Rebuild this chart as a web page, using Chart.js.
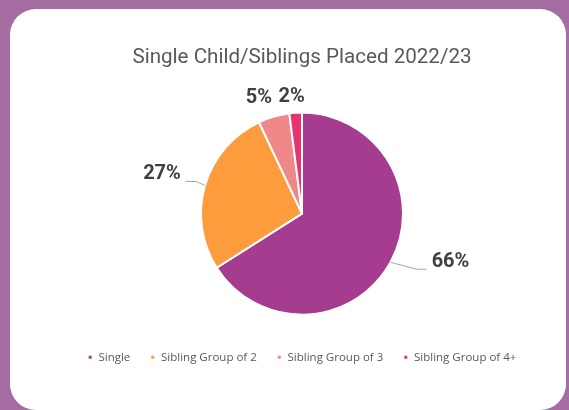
<!DOCTYPE html>
<html>
<head>
<meta charset="utf-8">
<script src="https://cdn.jsdelivr.net/npm/chart.js@4.4.0/dist/chart.umd.min.js"></script>
<style>
  html, body { margin: 0; padding: 0; }
  body { width: 569px; height: 410px; background: #a66da3; position: relative; overflow: hidden; }
  .card { position: absolute; left: 10px; top: 9px; width: 556px; height: 401px; background: #fff; border-radius: 26px; }
  .wrap { position: absolute; left: 0; top: 0; width: 569px; height: 410px; }
</style>
</head>
<body>
<div class="card"></div>
<div class="wrap"><canvas id="chart"></canvas></div>
<script>
const categories = ["Single", "Sibling Group of 2", "Sibling Group of 3", "Sibling Group of 4+"]
const placed = [66, 27, 5, 2]
const sliceColors = ["#a53c8f", "#fd9b3d", "#f0888a", "#e8336f"]

// where each % label sits relative to the outer edge of its slice, and which get a leader line
const labelNudges = [[60, 0], [-43, -11], [-15, -19], [-4, -16]]
const leaders = [true, true, false, false]

const outsideLabels = {
  id: "outsideLabels",
  afterDatasetsDraw(chart) {
    const ctx = chart.ctx
    const meta = chart.getDatasetMeta(0)
    const total = placed.reduce((a, b) => a + b, 0)
    ctx.save()
    ctx.font = "bold 20px Roboto"
    ctx.textBaseline = "middle"
    ctx.textAlign = "center"
    meta.data.forEach((arc, i) => {
      const { x, y, startAngle, endAngle, outerRadius } = arc.getProps(["x", "y", "startAngle", "endAngle", "outerRadius"], true)
      const mid = (startAngle + endAngle) / 2
      const ax = x + Math.cos(mid) * outerRadius
      const ay = y + Math.sin(mid) * outerRadius
      const lx = ax + labelNudges[i][0]
      const ly = ay + labelNudges[i][1]
      const text = Math.round(placed[i] / total * 100) + "%"
      const w = ctx.measureText(text).width

      if (leaders[i]) {
        const side = lx > ax ? -1 : 1
        const ex = lx + side * (w / 2 + 5)
        const ey = ly + 7
        ctx.beginPath()
        ctx.moveTo(ax, ay)
        ctx.lineTo(ex + side * 10, ey)
        ctx.lineTo(ex, ey)
        ctx.strokeStyle = "#a6a6a6"
        ctx.lineWidth = 1
        ctx.stroke()
      }

      ctx.fillStyle = "#404040"
      ctx.fillText(text, lx, ly)
    })
    ctx.restore()
  }
}

new Chart(document.getElementById("chart"), {
  type: "pie",
  data: {
    labels: categories,
    datasets: [{
      data: placed,
      backgroundColor: sliceColors,
      borderColor: "#ffffff",
      borderWidth: 2
    }]
  },
  options: {
    responsive: true,
    maintainAspectRatio: false,
    animation: false,
    radius: 101,
    layout: {
      padding: { left: 35, right: 0, top: 0, bottom: 37 }
    },
    plugins: {
      title: {
        display: true,
        text: "Single Child/Siblings Placed 2022/23",
        color: "#595959",
        font: { family: "Roboto", size: 20.6, weight: "normal" },
        padding: { top: 45, bottom: 26 }
      },
      legend: {
        position: "bottom",
        labels: {
          boxWidth: 5,
          boxHeight: 5,
          padding: 20,
          color: "#595959",
          font: { family: "Open Sans", size: 11.5 }
        }
      },
      tooltip: { enabled: false }
    }
  },
  plugins: [outsideLabels]
})
</script>
</body>
</html>
